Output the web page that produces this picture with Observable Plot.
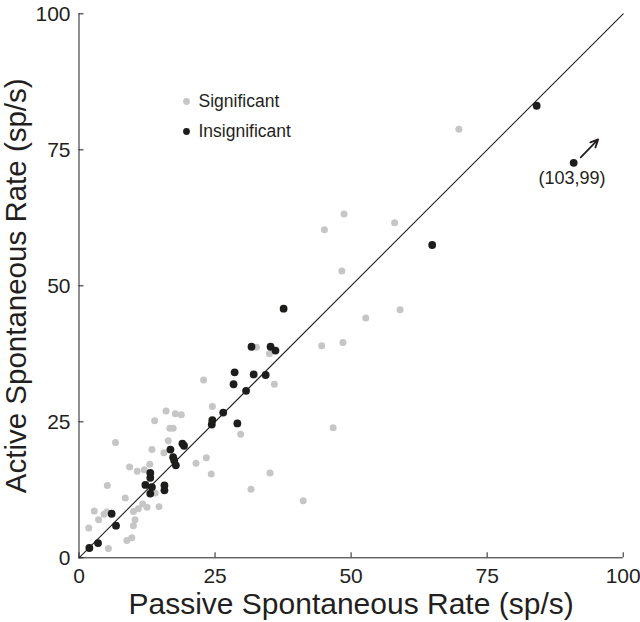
<!DOCTYPE html>
<html>
<head>
<meta charset="utf-8">
<script src="https://cdn.jsdelivr.net/npm/d3@7"></script>
<script src="https://cdn.jsdelivr.net/npm/@observablehq/plot@0.6"></script>
<style>
  body { margin: 0; background: white; }
  #chart { width: 640px; height: 622px; }
</style>
</head>
<body>
<div id="chart"></div>
<script>
// Passive (x) vs Active (y) spontaneous rate, sp/s
const significantX = [48.7,45.1,58.0,69.8,48.3,52.7,59.0,44.6,48.5,46.7,41.2,
  32.6,35.0,22.9,35.9,24.5,29.7,23.4,24.3,35.1,31.6,
  16.0,17.7,18.8,13.9,16.7,17.3,6.7,16.4,13.4,15.6,21.5,
  9.3,10.7,12.0,13.0,
  5.2,8.5,14.0,14.7,11.7,12.5,10.9,10.0,
  2.8,3.6,4.6,5.1,1.8,10.0,10.3,8.8,9.7,5.4];
const significantY = [63.2,60.3,61.6,78.8,52.7,44.1,45.6,39.0,39.6,23.9,10.5,
  38.7,37.5,32.7,31.9,27.8,22.7,18.4,15.4,15.6,12.6,
  27.0,26.5,26.3,25.2,23.8,23.8,21.2,21.5,19.9,19.3,17.4,
  16.7,15.9,16.2,17.2,
  13.3,11.0,11.9,9.4,9.9,9.3,9.0,8.5,
  8.6,7.0,8.0,8.4,5.5,5.9,7.0,3.2,3.7,1.7];

const insignificantX = [1.9,3.5,6.8,6.0,
  12.2,13.1,13.1,13.4,13.1,15.7,15.7,
  16.8,17.3,17.5,17.8,19.0,19.3,
  24.5,24.4,26.5,29.1,30.7,28.4,28.6,32.1,34.3,
  31.7,35.2,36.1,37.6,64.9,84.1,90.9];
const insignificantY = [1.8,2.7,5.9,8.1,
  13.4,15.6,14.7,13.0,11.8,13.3,12.4,
  19.9,18.5,17.9,17.0,21.0,20.6,
  25.3,24.5,26.7,24.7,30.7,31.9,34.1,33.7,33.6,
  38.8,38.8,38.1,45.8,57.5,83.1,72.6];

const xTicks = [0, 25, 50, 75, 100];
const yTicks = [0, 25, 50, 75, 100];
const unityLine = [0, 100];

const legendLabels = ["Significant", "Insignificant"];
const legendColors = ["#c6c6c6", "#1d1d1b"];

// off-scale point annotation
const offscaleLabel = ["(103,99)"];
const offscaleLabelX = [90.6];
const offscaleLabelY = [69.7];
const arrowFrom = [92.2, 73.6];
const arrowTo = [95.4, 76.9];

const xTitle = "Passive Spontaneous Rate (sp/s)";
const yTitle = "Active Spontaneous Rate (sp/s)";

const sig = significantX.map((x, i) => ({x, y: significantY[i]}));
const insig = insignificantX.map((x, i) => ({x, y: insignificantY[i]}));
const ink = "#231f20";
const font = "'Liberation Sans', Arial, Helvetica, sans-serif";

const legendMarks = legendLabels.flatMap((label, i) => [
  Plot.dot([label], {frameAnchor: "top-left", dx: 107.5, dy: 87.7 + i * 30, r: 3.4, fill: legendColors[i]}),
  Plot.text([label], {frameAnchor: "top-left", dx: 119.5, dy: 87.7 + i * 30, text: d => d,
    textAnchor: "start", lineAnchor: "middle", fontSize: 17.5, fill: ink})
]);

const chart = Plot.plot({
  width: 640,
  height: 622,
  marginLeft: 78.5,
  marginRight: 17.3,
  marginTop: 13.3,
  marginBottom: 64.7,
  x: {domain: [0, 100]},
  y: {domain: [0, 100]},
  style: {fontFamily: font, background: "white", color: ink},
  marks: [
    Plot.axisX(xTicks, {tickSize: 0, tickPadding: 10.7, fontSize: 21, label: null}),
    Plot.axisY(yTicks, {tickSize: 0, tickPadding: 8.5, fontSize: 21, label: null}),
    // inward tick marks
    Plot.ruleX(xTicks, {x: d => d, y1: 0, y2: 0, insetTop: -5, stroke: ink}),
    Plot.ruleY(yTicks, {y: d => d, x1: 0, x2: 0, insetRight: -5, stroke: ink}),
    Plot.ruleY([0], {stroke: ink, strokeWidth: 1}),
    Plot.ruleX([0], {stroke: ink, strokeWidth: 1}),
    Plot.line(unityLine, {x: d => d, y: d => d, stroke: ink, strokeWidth: 1.1}),
    Plot.dot(sig, {x: "x", y: "y", r: 3.5, fill: legendColors[0]}),
    Plot.dot(insig, {x: "x", y: "y", r: 3.9, fill: legendColors[1]}),
    Plot.arrow([0], {x1: () => arrowFrom[0], y1: () => arrowFrom[1], x2: () => arrowTo[0], y2: () => arrowTo[1],
      stroke: ink, strokeWidth: 1.8, headLength: 9, headAngle: 50}),
    Plot.text(offscaleLabel, {x: (d, i) => offscaleLabelX[i], y: (d, i) => offscaleLabelY[i], text: d => d,
      fontSize: 18, fill: ink}),
    ...legendMarks,
    Plot.text([xTitle], {frameAnchor: "bottom", dy: 47, lineAnchor: "middle", textAnchor: "middle",
      fontSize: 30, fill: ink, text: d => d}),
    Plot.text([yTitle], {frameAnchor: "left", dx: -62, rotate: -90, lineAnchor: "middle", textAnchor: "middle",
      fontSize: 29.5, fill: ink, text: d => d})
  ]
});
document.getElementById("chart").appendChild(chart);
</script>
</body>
</html>
